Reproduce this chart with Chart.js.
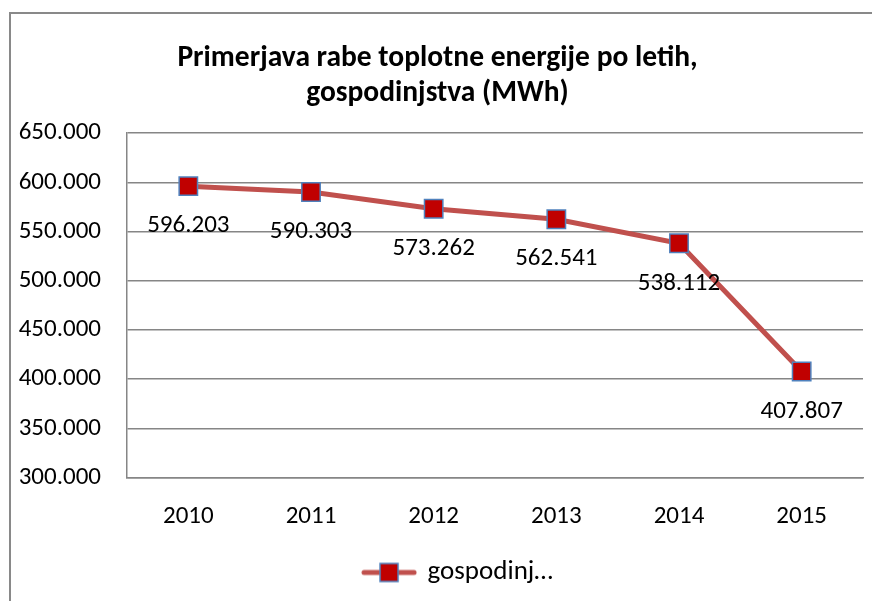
<!DOCTYPE html>
<html>
<head>
<meta charset="utf-8">
<script src="https://cdn.jsdelivr.net/npm/chart.js@4/dist/chart.umd.min.js"></script>
<style>
  html, body { margin: 0; padding: 0; background: #fff; }
  #wrap { width: 872px; height: 601px; position: relative; }
</style>
</head>
<body>
<div id="wrap"><canvas id="c" width="872" height="601"></canvas></div>
<script>
const categories = ['2010', '2011', '2012', '2013', '2014', '2015'];
const seriesName = 'gospodinjstva';
const legendText = 'gospodinj…';
const values = [596203, 590303, 573262, 562541, 538112, 407807];
const yMin = 300000, yMax = 650000, yStep = 50000;
const titleLines = ['Primerjava rabe toplotne energije po letih,', 'gospodinjstva (MWh)'];

const FONT = "Carlito, Lato, 'Open Sans', sans-serif";
const TXT = 25;
const fmt = v => Math.round(v).toString().replace(/\B(?=(\d{3})+(?!\d))/g, '.');

function legendSymbol() {
  const cv = document.createElement('canvas');
  cv.width = 56; cv.height = 22;
  const g = cv.getContext('2d');
  g.strokeStyle = '#C0504D'; g.lineWidth = 5; g.lineCap = 'round';
  g.beginPath(); g.moveTo(3, 11); g.lineTo(53, 11); g.stroke();
  g.fillStyle = '#C00000'; g.fillRect(19, 2, 18, 18);
  g.strokeStyle = '#4F81BD'; g.lineWidth = 1.5; g.strokeRect(19, 2, 18, 18);
  return cv;
}

const framePlugin = {
  id: 'frame',
  beforeDraw(chart) {
    const ctx = chart.ctx;
    ctx.save();
    ctx.strokeStyle = '#898989';
    ctx.lineWidth = 2;
    ctx.beginPath();
    ctx.moveTo(10, 601); ctx.lineTo(10, 13); ctx.lineTo(872, 13);
    ctx.stroke();
    ctx.restore();
  }
};

const legendShift = {
  id: 'legendShift',
  afterLayout(chart) {
    if (chart.legend) { chart.legend.left += 21; chart.legend.right += 21; }
  }
};

const labelPlugin = {
  id: 'valueLabels',
  afterDatasetsDraw(chart) {
    const ctx = chart.ctx;
    const meta = chart.getDatasetMeta(0);
    ctx.save();
    ctx.font = TXT + 'px ' + FONT;
    ctx.fillStyle = '#000';
    ctx.textAlign = 'center';
    ctx.textBaseline = 'middle';
    meta.data.forEach((pt, i) => {
      ctx.fillText(fmt(chart.data.datasets[0].data[i]), pt.x, pt.y + 40);
    });
    ctx.restore();
  }
};

new Chart(document.getElementById('c'), {
  type: 'line',
  data: {
    labels: categories,
    datasets: [{
      label: seriesName,
      data: values,
      borderColor: '#C0504D',
      borderWidth: 5,
      tension: 0,
      pointStyle: 'rect',
      pointRadius: 13,
      pointHoverRadius: 13,
      pointBackgroundColor: '#C00000',
      pointBorderColor: '#4F81BD',
      pointBorderWidth: 1.5
    }]
  },
  options: {
    responsive: false,
    animation: false,
    layout: { autoPadding: false, padding: { left: 12, right: 9, top: 14, bottom: 5 } },
    scales: {
      x: {
        type: 'category',
        offset: true,
        grid: { display: false },
        border: { display: true, color: '#868686', width: 1.5 },
        ticks: { color: '#000', font: { family: FONT, size: TXT }, padding: 16 },
        afterFit(scale) { scale.height = 67.5; }
      },
      y: {
        min: yMin, max: yMax,
        grid: { color: '#868686', lineWidth: 1.5, drawTicks: false },
        border: { display: true, color: '#868686', width: 1.5 },
        ticks: { stepSize: yStep, color: '#000', font: { family: FONT, size: TXT }, padding: 26, callback: v => fmt(v) },
        afterFit(scale) { scale.width = 115; }
      }
    },
    plugins: {
      title: {
        display: true,
        text: titleLines,
        color: '#000',
        font: { family: FONT, size: 29.5, weight: 'bold', lineHeight: 1.19 },
        padding: { top: 27, bottom: 22 }
      },
      legend: {
        position: 'bottom',
        labels: {
          usePointStyle: true,
          pointStyleWidth: 50,
          color: '#000',
          font: { family: FONT, size: 27 },
          padding: 14,
          generateLabels(chart) {
            return [{
              text: legendText,
              pointStyle: legendSymbol(),
              fillStyle: '#C00000',
              strokeStyle: '#C0504D',
              lineWidth: 0,
              datasetIndex: 0,
              hidden: false
            }];
          }
        }
      },
      tooltip: { enabled: false }
    }
  },
  plugins: [framePlugin, legendShift, labelPlugin]
});
</script>
</body>
</html>
